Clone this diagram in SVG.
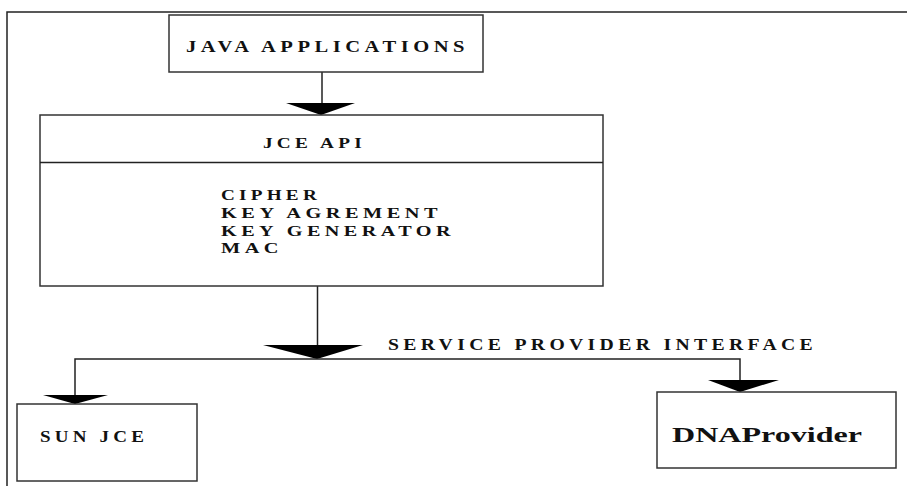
<svg xmlns="http://www.w3.org/2000/svg" width="907" height="486" viewBox="0 0 907 486">
<style>
.box{fill:#fff;stroke:#333;stroke-width:1.5}
.ln{fill:none;stroke:#222;stroke-width:1.5}
.ah{fill:#000;stroke:none}
.t{font-family:"Liberation Serif","Times New Roman",serif;font-weight:bold;fill:#111}
.sp{letter-spacing:0.22em}
</style>
<rect width="907" height="486" fill="#fff"/>
<g id="frame">
<path class="ln" d="M7,486 V12 H907" stroke-width="2"/>
</g>
<g id="connectors">
<path class="ln" d="M322,72 V104"/>
<polygon class="ah" points="286,103 355,103 321,115"/>
<path class="ln" d="M317.5,286 V346"/>
<polygon class="ah" points="263,345 363,345 317,359"/>
<path class="ln" d="M75,404 V359 H740 V381"/>
<polygon class="ah" points="43,395 108,395 75,404"/>
<polygon class="ah" points="708,380 779,380 740,392"/>
</g>
<g id="java-applications">
<rect class="box" x="169" y="15" width="314" height="57"/>
<text class="t sp" x="186" y="52" font-size="16" textLength="283" lengthAdjust="spacingAndGlyphs">JAVA APPLICATIONS</text>
</g>
<g id="jce-api">
<rect class="box" x="40" y="115" width="563" height="171"/>
<line class="ln" x1="40" y1="162.5" x2="603" y2="162.5"/>
<text class="t sp" x="263" y="148" font-size="15" textLength="103" lengthAdjust="spacingAndGlyphs">JCE API</text>
<text class="t sp" x="221" y="200" font-size="14.5" textLength="100" lengthAdjust="spacingAndGlyphs">CIPHER</text>
<text class="t sp" x="221" y="218" font-size="14.5" textLength="221" lengthAdjust="spacingAndGlyphs">KEY AGREMENT</text>
<text class="t sp" x="221" y="236" font-size="14.5" textLength="234" lengthAdjust="spacingAndGlyphs">KEY GENERATOR</text>
<text class="t sp" x="221" y="253" font-size="14.5" textLength="62" lengthAdjust="spacingAndGlyphs">MAC</text>
</g>
<g id="spi-label">
<text class="t sp" x="388" y="350" font-size="17" textLength="429" lengthAdjust="spacingAndGlyphs">SERVICE PROVIDER INTERFACE</text>
</g>
<g id="sun-jce">
<rect class="box" x="17" y="404" width="180" height="77"/>
<text class="t sp" x="40" y="442" font-size="16" textLength="108" lengthAdjust="spacingAndGlyphs">SUN JCE</text>
</g>
<g id="dna-provider">
<rect class="box" x="657" y="392" width="239" height="76"/>
<text class="t" x="672" y="442" font-size="22" textLength="190" lengthAdjust="spacingAndGlyphs">DNAProvider</text>
</g>
</svg>
